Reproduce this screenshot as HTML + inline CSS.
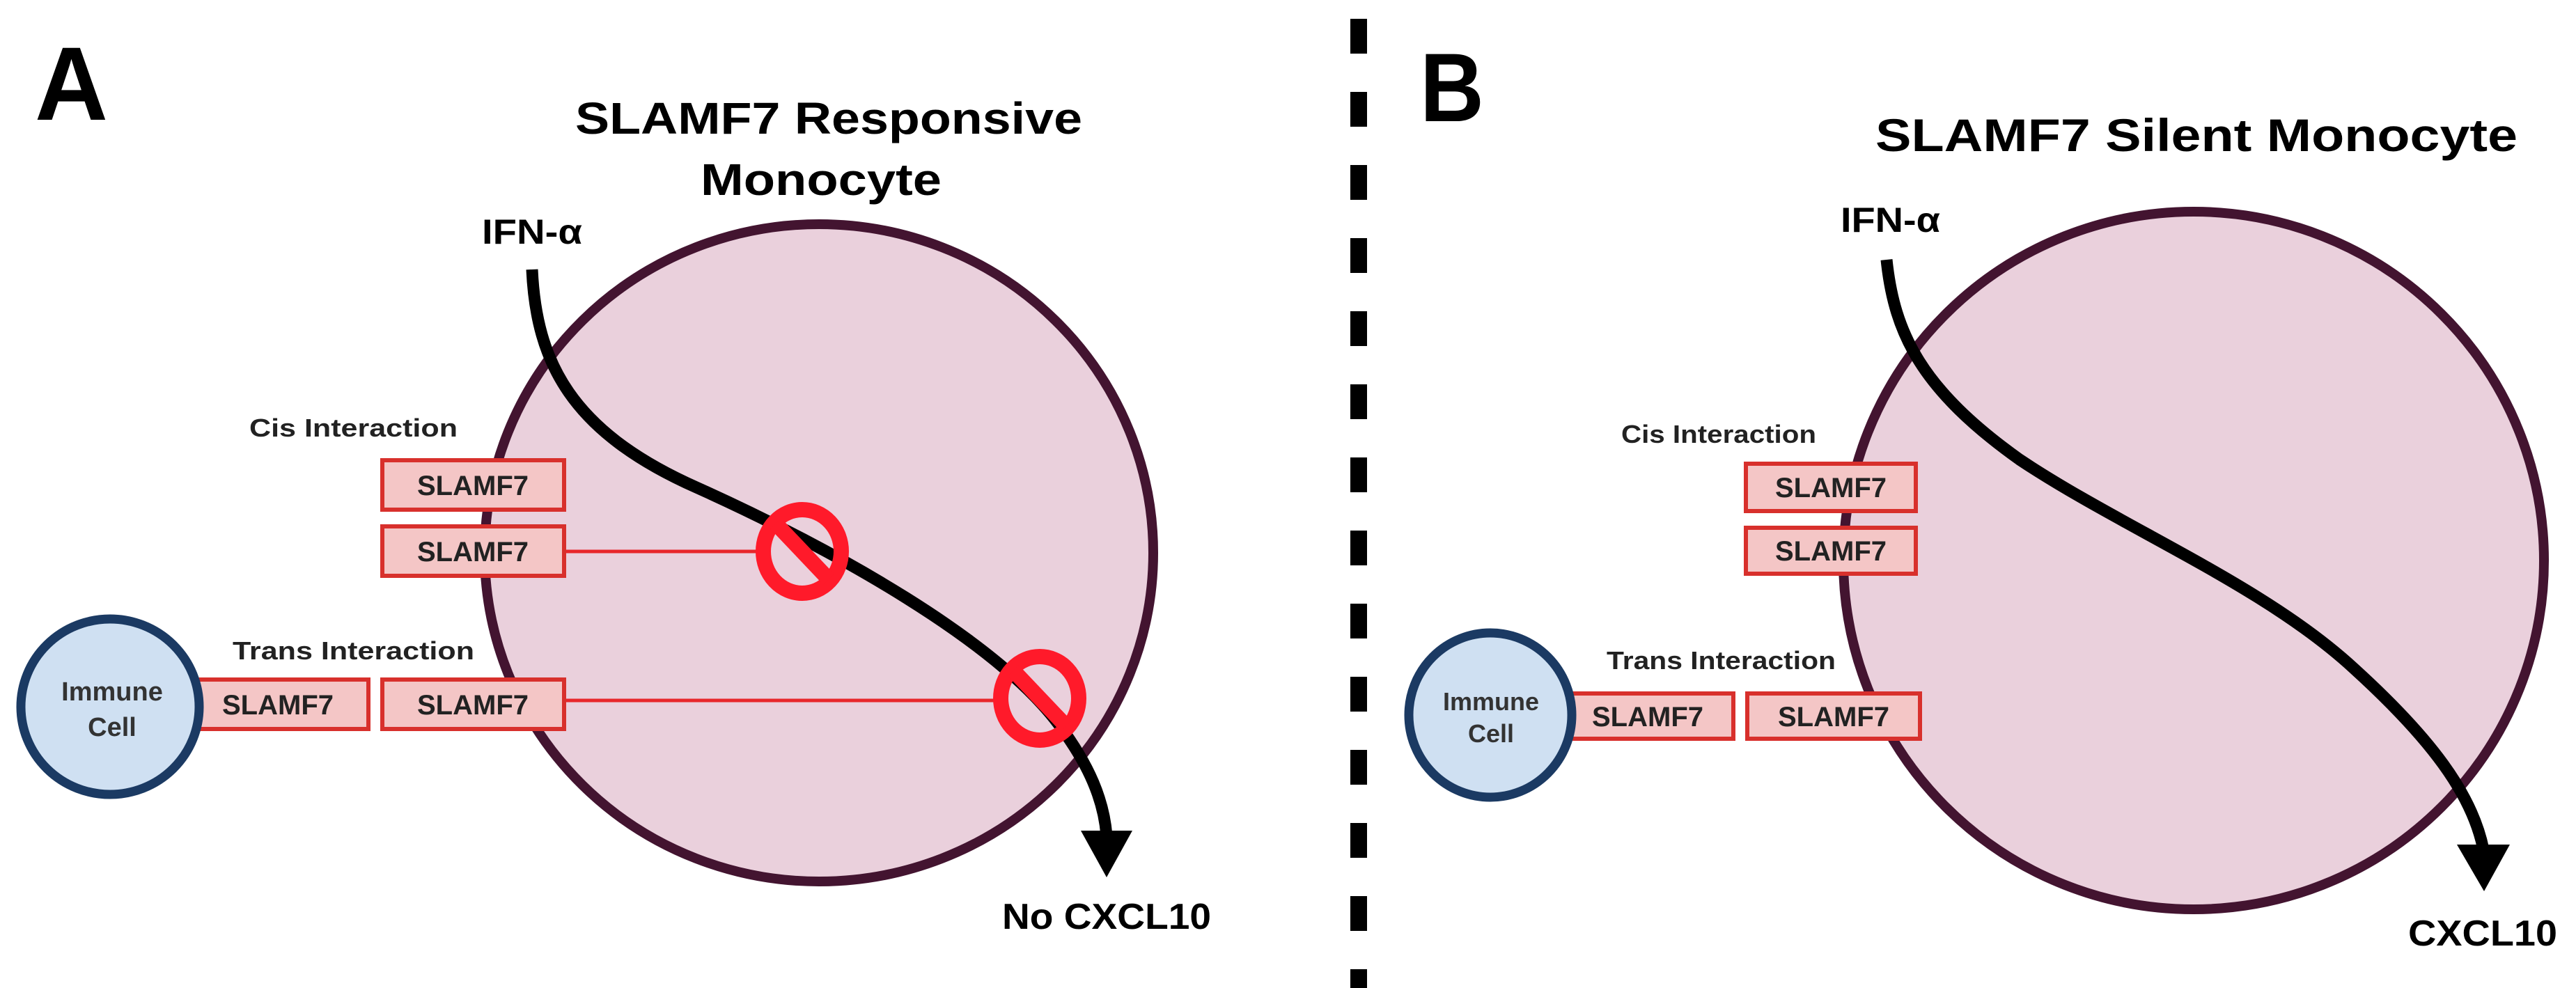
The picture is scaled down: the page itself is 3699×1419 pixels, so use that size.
<!DOCTYPE html>
<html><head><meta charset="utf-8"><style>html,body{margin:0;padding:0;background:#fff}svg{display:block}</style></head>
<body>
<svg width="3699" height="1419" viewBox="0 0 3699 1419" xmlns="http://www.w3.org/2000/svg" font-family="Liberation Sans, Arial, sans-serif" font-weight="bold">
<rect width="3699" height="1419" fill="#fff"/>
<!-- Panel A -->
<text x="50" y="172" font-size="150" textLength="105" lengthAdjust="spacingAndGlyphs">A</text>
<text x="826" y="192" font-size="64" textLength="728" lengthAdjust="spacingAndGlyphs">SLAMF7 Responsive</text>
<text x="1006" y="280" font-size="64" textLength="346" lengthAdjust="spacingAndGlyphs">Monocyte</text>
<text x="692" y="350" font-size="50" textLength="144" lengthAdjust="spacingAndGlyphs">IFN-α</text>
<ellipse cx="1176" cy="794" rx="480" ry="472" fill="#ead0dc" stroke="#431430" stroke-width="14"/>
<path d="M764,387 C770,520 820,620 1000,700 C1200,790 1430,920 1520,1040 C1565,1100 1585,1150 1589,1200" fill="none" stroke="#000" stroke-width="17"/>
<polygon points="1552,1193 1626,1193 1589,1260" fill="#000"/>
<text x="358" y="627" font-size="36" textLength="299" lengthAdjust="spacingAndGlyphs" fill="#222">Cis Interaction</text>
<text x="334" y="947" font-size="36" textLength="347" lengthAdjust="spacingAndGlyphs" fill="#222">Trans Interaction</text>
<line x1="810" y1="792" x2="1100" y2="792" stroke="#e8262b" stroke-width="5"/>
<line x1="810" y1="1006" x2="1440" y2="1006" stroke="#e8262b" stroke-width="5"/>
<g font-size="40" text-anchor="middle" fill="#222">
<rect x="549" y="661" width="261" height="71" fill="#f4c6c6" stroke="#d8302c" stroke-width="6"/>
<text x="679" y="711">SLAMF7</text>
<rect x="549" y="756" width="261" height="71" fill="#f4c6c6" stroke="#d8302c" stroke-width="6"/>
<text x="679" y="806">SLAMF7</text>
<rect x="269" y="976" width="260" height="71" fill="#f4c6c6" stroke="#d8302c" stroke-width="6"/>
<text x="399" y="1026">SLAMF7</text>
<rect x="549" y="976" width="261" height="71" fill="#f4c6c6" stroke="#d8302c" stroke-width="6"/>
<text x="679" y="1026">SLAMF7</text>
</g>
<g fill="none" stroke="#ff1a2a" stroke-width="22">
<ellipse cx="1152" cy="792" rx="56" ry="60"/>
<line x1="1114" y1="752" x2="1190" y2="832"/>
<ellipse cx="1493" cy="1003" rx="56" ry="60"/>
<line x1="1455" y1="963" x2="1531" y2="1043"/>
</g>
<ellipse cx="158" cy="1015" rx="128" ry="126" fill="#cfe0f2" stroke="#1b3a63" stroke-width="13"/>
<text x="161" y="1006" font-size="38" text-anchor="middle" fill="#333">Immune</text>
<text x="161" y="1057" font-size="38" text-anchor="middle" fill="#333">Cell</text>
<text x="1439" y="1334" font-size="52" textLength="300" lengthAdjust="spacingAndGlyphs">No CXCL10</text>
<!-- divider -->
<line x1="1951" y1="27" x2="1951" y2="1419" stroke="#000" stroke-width="24" stroke-dasharray="50 55"/>
<!-- Panel B -->
<text x="2039" y="174" font-size="140" textLength="92" lengthAdjust="spacingAndGlyphs">B</text>
<text x="2693" y="217" font-size="66" textLength="922" lengthAdjust="spacingAndGlyphs">SLAMF7 Silent Monocyte</text>
<text x="2643" y="333" font-size="50" textLength="143" lengthAdjust="spacingAndGlyphs">IFN-α</text>
<ellipse cx="3150" cy="805" rx="503" ry="501" fill="#ead0dc" stroke="#431430" stroke-width="14"/>
<path d="M2709,373 C2720,480 2760,560 2900,660 C3050,760 3250,840 3380,960 C3490,1060 3550,1140 3566,1220" fill="none" stroke="#000" stroke-width="17"/>
<polygon points="3528,1213 3604,1213 3567,1280" fill="#000"/>
<text x="2328" y="636" font-size="36" textLength="280" lengthAdjust="spacingAndGlyphs" fill="#222">Cis Interaction</text>
<text x="2307" y="961" font-size="36" textLength="329" lengthAdjust="spacingAndGlyphs" fill="#222">Trans Interaction</text>
<g font-size="40" text-anchor="middle" fill="#222">
<rect x="2507" y="666" width="244" height="68" fill="#f4c6c6" stroke="#d8302c" stroke-width="6"/>
<text x="2629" y="714">SLAMF7</text>
<rect x="2507" y="758" width="244" height="66" fill="#f4c6c6" stroke="#d8302c" stroke-width="6"/>
<text x="2629" y="805">SLAMF7</text>
<rect x="2244" y="996" width="245" height="65" fill="#f4c6c6" stroke="#d8302c" stroke-width="6"/>
<text x="2366" y="1043">SLAMF7</text>
<rect x="2509" y="996" width="248" height="65" fill="#f4c6c6" stroke="#d8302c" stroke-width="6"/>
<text x="2633" y="1043">SLAMF7</text>
</g>
<ellipse cx="2140" cy="1027" rx="117" ry="118" fill="#cfe0f2" stroke="#1b3a63" stroke-width="13"/>
<text x="2141" y="1020" font-size="36" text-anchor="middle" fill="#333">Immune</text>
<text x="2141" y="1066" font-size="36" text-anchor="middle" fill="#333">Cell</text>
<text x="3458" y="1358" font-size="52" textLength="214" lengthAdjust="spacingAndGlyphs">CXCL10</text>
</svg>
</body></html>
